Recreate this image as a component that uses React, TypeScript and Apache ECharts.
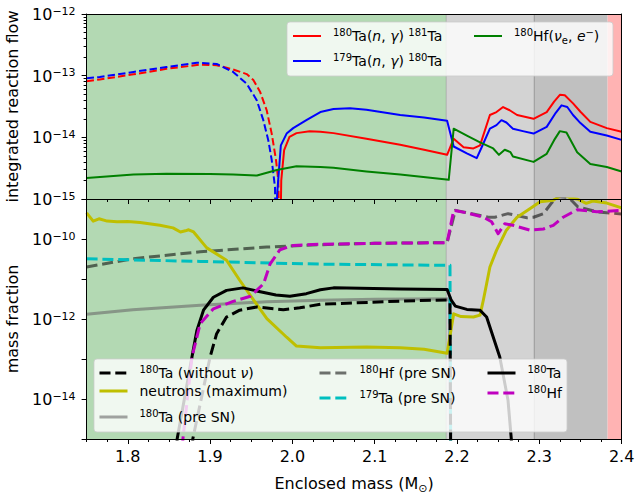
import React, { useEffect, useRef } from 'react';
import * as echarts from 'echarts';

const FONT = 'DejaVu Sans';

// ---------- shaded regions (enclosed mass) ----------
const regionStart = [1.75, 2.187, 2.294, 2.383];
const regionEnd = [2.187, 2.294, 2.383, 2.4];
const regionFills = ['#b3d9b3', '#d3d3d3', '#c0c0c0', '#ffb3b3'];
const regionEdges = [2.187, 2.294];
const regionEdgeColors = ['rgba(140,140,140,0.45)', 'rgba(140,140,140,0.7)'];

// ---------- ticks ----------
const xMajor = [1.8, 1.9, 2.0, 2.1, 2.2, 2.3, 2.4];
const xMinor = [1.75, 1.775, 1.825, 1.85, 1.875, 1.925, 1.95, 1.975, 2.025, 2.05, 2.075, 2.125, 2.15, 2.175, 2.225, 2.25, 2.275, 2.325, 2.35, 2.375];
const topYMajor = [1e-15, 1e-14, 1e-13, 1e-12];
const topYMinor = [2e-15, 3e-15, 4e-15, 5e-15, 6e-15, 7e-15, 8e-15, 9e-15, 2e-14, 3e-14, 4e-14, 5e-14, 6e-14, 7e-14, 8e-14, 9e-14, 2e-13, 3e-13, 4e-13, 5e-13, 6e-13, 7e-13, 8e-13, 9e-13];
const botYTicks = [1e-15, 1e-14, 1e-13, 1e-12, 1e-11, 1e-10, 1e-9];
const botYLabels = [1e-14, 1e-12, 1e-10];

// ---------- top panel: integrated reaction flow ----------
const flowTa180ngNeg = [[1.75, 8.1e-14], [1.766, 8.7e-14], [1.807, 1.05e-13], [1.847, 1.29e-13], [1.888, 1.51e-13], [1.908, 1.48e-13], [1.928, 1.26e-13], [1.9445, 1.06e-13], [1.9526, 8.5e-14], [1.9607, 5.5e-14], [1.9688, 2.75e-14], [1.9749, 1.15e-14], [1.9801, 4.3e-15], [1.9829, 2.0e-15], [1.985, 1e-16]];
const flowTa180ng = [[1.985, 1e-16], [1.9865, 2e-15], [1.990, 6.2e-15], [1.9965, 1.02e-14], [2.005, 1.17e-14], [2.021, 1.26e-14], [2.034, 1.23e-14], [2.050, 1.17e-14], [2.090, 9.5e-15], [2.131, 7.6e-15], [2.160, 6.3e-15], [2.188, 5.2e-15], [2.196, 9.5e-15], [2.208, 6.9e-15], [2.220, 6.6e-15], [2.228, 7.4e-15], [2.240, 2.3e-14], [2.248, 2.57e-14], [2.256, 3.1e-14], [2.264, 2.75e-14], [2.273, 2.3e-14], [2.293, 2.0e-14], [2.309, 2.57e-14], [2.318, 3.8e-14], [2.325, 4.9e-14], [2.331, 4.8e-14], [2.341, 3.55e-14], [2.350, 2.6e-14], [2.362, 1.78e-14], [2.382, 1.41e-14], [2.40, 1.23e-14]];
const flowTa179ngNeg = [[1.75, 9.1e-14], [1.766, 9.5e-14], [1.807, 1.15e-13], [1.847, 1.38e-13], [1.884, 1.62e-13], [1.908, 1.55e-13], [1.928, 1.15e-13], [1.9445, 7.4e-14], [1.9567, 4.0e-14], [1.9647, 1.9e-14], [1.9708, 8.9e-15], [1.9749, 4.3e-15], [1.9789, 1.55e-15], [1.980, 1e-16]];
const flowTa179ng = [[1.980, 1e-16], [1.9815, 1.2e-15], [1.986, 7.4e-15], [1.993, 1.15e-14], [2.001, 1.41e-14], [2.017, 1.9e-14], [2.034, 2.57e-14], [2.050, 2.88e-14], [2.070, 2.95e-14], [2.090, 2.8e-14], [2.131, 2.3e-14], [2.160, 2.1e-14], [2.188, 1.86e-14], [2.196, 7.1e-15], [2.212, 5.5e-15], [2.224, 4.6e-15], [2.230, 6.9e-15], [2.240, 1.38e-14], [2.248, 1.58e-14], [2.254, 1.9e-14], [2.260, 1.74e-14], [2.268, 1.38e-14], [2.280, 1.26e-14], [2.293, 1.15e-14], [2.309, 1.48e-14], [2.320, 2.5e-14], [2.327, 3.3e-14], [2.334, 3.1e-14], [2.341, 2.3e-14], [2.350, 1.7e-14], [2.362, 1.23e-14], [2.382, 1.07e-14], [2.40, 9.1e-15]];
const flowHf180nu = [[1.75, 2.2e-15], [1.807, 2.5e-15], [1.847, 2.57e-15], [1.90, 2.55e-15], [1.928, 2.5e-15], [1.957, 2.4e-15], [1.981, 2.95e-15], [2.005, 3.4e-15], [2.034, 3.3e-15], [2.050, 3.2e-15], [2.090, 2.8e-15], [2.131, 2.5e-15], [2.190, 2.05e-15], [2.196, 1.38e-14], [2.212, 1.07e-14], [2.228, 8.3e-15], [2.244, 6.6e-15], [2.251, 5.2e-15], [2.258, 6.3e-15], [2.265, 5.75e-15], [2.268, 4.9e-15], [2.293, 4.0e-15], [2.309, 5.4e-15], [2.318, 9e-15], [2.325, 1.26e-14], [2.333, 1.2e-14], [2.346, 5.75e-15], [2.362, 3.7e-15], [2.382, 3.3e-15], [2.40, 2.8e-15]];

// ---------- bottom panel: mass fraction ----------
const ta180NoNu = [[1.877, 1e-16], [1.879, 1e-15], [1.900, 1.12e-13], [1.908, 4.3e-13], [1.920, 1.12e-12], [1.936, 1.66e-12], [1.957, 2.0e-12], [1.989, 1.7e-12], [2.009, 1.9e-12], [2.034, 2.35e-12], [2.050, 2.4e-12], [2.131, 2.8e-12], [2.188, 3.0e-12], [2.1915, 2.5e-12], [2.1925, 1e-16]];
const neutronsMax = [[1.75, 4.5e-10], [1.758, 2.8e-10], [1.765, 3.2e-10], [1.775, 2.8e-10], [1.787, 2.7e-10], [1.80, 2.75e-10], [1.815, 2.6e-10], [1.839, 2.2e-10], [1.855, 1.9e-10], [1.864, 1.5e-10], [1.870, 1.6e-10], [1.874, 1.7e-10], [1.880, 1.5e-10], [1.896, 6.0e-11], [1.920, 2.95e-11], [1.936, 9.3e-12], [1.953, 2.95e-12], [1.969, 1.02e-12], [1.993, 3.5e-13], [2.005, 2.1e-13], [2.034, 1.9e-13], [2.090, 2.0e-13], [2.131, 1.9e-13], [2.160, 1.75e-13], [2.188, 1.4e-13], [2.196, 1.35e-12], [2.205, 1.15e-12], [2.220, 1.12e-12], [2.228, 1.25e-12], [2.232, 2.95e-12], [2.236, 7.6e-12], [2.240, 2.0e-11], [2.248, 5.2e-11], [2.260, 1.66e-10], [2.273, 3.5e-10], [2.289, 5.8e-10], [2.301, 8.5e-10], [2.317, 9.3e-10], [2.328, 1.3e-9], [2.339, 1.05e-9], [2.346, 1.0e-9], [2.357, 7.8e-10], [2.365, 8.9e-10], [2.382, 7.9e-10], [2.40, 6.0e-10]];
const ta180PreSN = [[1.75, 1.32e-12], [1.806, 1.7e-12], [1.888, 2.2e-12], [1.969, 2.7e-12], [2.034, 2.95e-12], [2.100, 3.1e-12], [2.188, 3.2e-12], [2.191, 2.8e-12], [2.1925, 1e-16]];
const hf180PreSN = [[1.75, 2.0e-11], [1.806, 3.2e-11], [1.888, 4.8e-11], [1.969, 6.3e-11], [2.034, 7.2e-11], [2.100, 7.8e-11], [2.188, 8.1e-11], [2.198, 5.2e-10], [2.238, 3.5e-10], [2.246, 3.5e-10], [2.262, 4.3e-10], [2.285, 3.4e-10], [2.293, 3.5e-10], [2.305, 4.3e-10], [2.315, 8.0e-10], [2.322, 1.15e-9], [2.333, 1.1e-9], [2.339, 9.3e-10], [2.347, 6.3e-10], [2.370, 4.8e-10], [2.40, 4.2e-10]];
const ta179PreSN = [[1.75, 3.2e-11], [1.888, 2.75e-11], [2.034, 2.35e-11], [2.188, 2.2e-11], [2.1915, 2.2e-11], [2.1925, 1e-16]];
const ta180 = [[1.858, 1e-16], [1.860, 1e-15], [1.878, 1.12e-13], [1.884, 5.2e-13], [1.892, 1.66e-12], [1.904, 3.5e-12], [1.920, 5.2e-12], [1.940, 6.0e-12], [1.961, 4.8e-12], [1.980, 4.0e-12], [1.997, 3.7e-12], [2.017, 4.3e-12], [2.034, 5.4e-12], [2.050, 6.0e-12], [2.131, 5.6e-12], [2.188, 5.5e-12], [2.193, 2.95e-12], [2.198, 2.1e-12], [2.212, 1.74e-12], [2.228, 1.66e-12], [2.236, 1.12e-12], [2.252, 1.12e-13], [2.262, 9.3e-15], [2.266, 1e-15], [2.268, 1e-16]];
const hf180 = [[1.865, 1e-16], [1.867, 1e-15], [1.878, 1.12e-13], [1.888, 7.6e-13], [1.904, 1.8e-12], [1.928, 2.75e-12], [1.949, 3.7e-12], [1.965, 7.6e-12], [1.973, 2.4e-11], [1.985, 5.4e-11], [2.001, 6.9e-11], [2.034, 7.4e-11], [2.100, 7.8e-11], [2.188, 8.1e-11], [2.196, 5.2e-10], [2.212, 4.5e-10], [2.232, 3.5e-10], [2.242, 2.7e-10], [2.250, 1.35e-10], [2.258, 2.4e-10], [2.268, 2.2e-10], [2.289, 1.66e-10], [2.305, 1.78e-10], [2.317, 2.2e-10], [2.329, 3.5e-10], [2.346, 5.4e-10], [2.370, 4.8e-10], [2.40, 5.2e-10]];

// ---------- legend labels (rich text) ----------
const legendLabels: Record<string, string> = {
  '180Ta(n,γ)181Ta': '{s|180}{n|Ta(}{i|n}{n|, }{i|γ}{n|) }{s|181}{n|Ta}',
  '179Ta(n,γ)180Ta': '{s|179}{n|Ta(}{i|n}{n|, }{i|γ}{n|) }{s|180}{n|Ta}',
  '180Hf(νe,e−)': '{s|180}{n|Hf(}{i|ν}{b|e}{n|, }{i|e}{s|−}{n|)}',
  '180Ta (without ν)': '{s|180}{n|Ta (without }{i|ν}{n|)}',
  'neutrons (maximum)': '{n|neutrons (maximum)}',
  '180Ta (pre SN)': '{s|180}{n|Ta (pre SN)}',
  '180Hf (pre SN)': '{s|180}{n|Hf (pre SN)}',
  '179Ta (pre SN)': '{s|179}{n|Ta (pre SN)}',
  '180Ta': '{s|180}{n|Ta}',
  '180Hf': '{s|180}{n|Hf}',
};

const legendRich = {
  n: { fontFamily: FONT, fontSize: 14, color: '#000', padding: [2, 0, 2, 0] },
  i: { fontFamily: FONT, fontSize: 14, color: '#000', fontStyle: 'italic', padding: [2, 0, 2, 0] },
  s: { fontFamily: FONT, fontSize: 10, color: '#000', verticalAlign: 'top' },
  b: { fontFamily: FONT, fontSize: 10, color: '#000', verticalAlign: 'bottom' },
};

function legendItem(name: string, left: number, top: number, width: number) {
  return {
    show: true,
    orient: 'vertical',
    left,
    top,
    padding: 0,
    data: [name],
    itemWidth: 28,
    itemHeight: 14,
    selectedMode: false,
    z: 60,
    lineStyle: { width },
    itemStyle: { opacity: 0 },
    formatter: (n: string) => legendLabels[n] || n,
    textStyle: { fontFamily: FONT, fontSize: 14, color: '#000', padding: [0, 0, 0, 7], rich: legendRich },
  };
}

const expLabel = (v: number) => {
  const e = Math.round(Math.log10(v));
  return `{b|10}{s|−${-e}}`;
};

const yLabelRich = {
  b: { fontFamily: FONT, fontSize: 16, color: '#000', padding: [1, 0, 0, 0] },
  s: { fontFamily: FONT, fontSize: 11, color: '#000', verticalAlign: 'top' },
};

const axisLineStyle = { color: '#000', width: 1 };

function xAxes(gridIndex: number, labels: boolean) {
  const base = { type: 'value', gridIndex, min: 1.75, max: 2.4, splitLine: { show: false }, z: 5 };
  return [
    {
      ...base,
      position: 'bottom',
      axisLine: { show: true, onZero: false, lineStyle: axisLineStyle },
      axisTick: { show: true, length: 5, customValues: xMajor, lineStyle: axisLineStyle },
      axisLabel: labels
        ? { show: true, customValues: xMajor, formatter: (v: number) => v.toFixed(1), fontFamily: FONT, fontSize: 16, color: '#000', margin: 9 }
        : { show: false },
      ...(labels
        ? {
            name: '{n|Enclosed mass (M}{b|⊙}{n|)}',
            nameLocation: 'middle',
            nameGap: 34,
            nameTextStyle: {
              fontFamily: FONT, fontSize: 16, color: '#000',
              rich: {
                n: { fontFamily: FONT, fontSize: 16, color: '#000', padding: [2, 0, 3, 0] },
                b: { fontFamily: FONT, fontSize: 11, color: '#000', verticalAlign: 'bottom' },
              },
            },
          }
        : {}),
    },
    {
      ...base,
      position: 'bottom',
      axisLine: { show: false, onZero: false },
      axisTick: { show: true, length: 3, customValues: xMinor, lineStyle: axisLineStyle },
      axisLabel: { show: false },
    },
    {
      ...base,
      position: 'top',
      axisLine: { show: true, onZero: false, lineStyle: axisLineStyle },
      axisTick: { show: false },
      axisLabel: { show: false },
    },
  ];
}

function rightSpine(gridIndex: number) {
  return {
    type: 'value', gridIndex, min: 0, max: 1, position: 'right', z: 5,
    axisLine: { show: true, onZero: false, lineStyle: axisLineStyle },
    axisTick: { show: false }, axisLabel: { show: false }, splitLine: { show: false },
  };
}

const regionData = regionStart.map((s, i) => [s, regionEnd[i]]);
const edgeData = regionEdges.map((e) => [e, e]);

function regionSeries(xi: number, yi: number, yRef: number) {
  return [
    {
      type: 'custom', xAxisIndex: xi, yAxisIndex: yi, z: 1, silent: true,
      data: regionData,
      renderItem: (params: any, api: any) => {
        const cs = params.coordSys;
        const x0 = api.coord([api.value(0), yRef])[0];
        const x1 = api.coord([api.value(1), yRef])[0];
        return { type: 'rect', shape: { x: x0, y: cs.y, width: x1 - x0, height: cs.height }, style: { fill: regionFills[params.dataIndex] } };
      },
    },
    {
      type: 'custom', xAxisIndex: xi, yAxisIndex: yi, z: 1, silent: true,
      data: edgeData,
      renderItem: (params: any, api: any) => {
        const cs = params.coordSys;
        const x0 = api.coord([api.value(0), yRef])[0];
        return { type: 'line', shape: { x1: x0, y1: cs.y, x2: x0, y2: cs.y + cs.height }, style: { stroke: regionEdgeColors[params.dataIndex], lineWidth: 1.2 } };
      },
    },
  ];
}

function line(name: string, data: number[][], color: string, width: number, dash: any, xi: number, yi: number) {
  return {
    type: 'line', name, data, xAxisIndex: xi, yAxisIndex: yi, z: 3,
    symbol: 'none', showSymbol: false, clip: true, silent: true,
    lineStyle: { color, width, type: dash, join: 'round', cap: 'butt' },
    itemStyle: { color },
  };
}

const TOP_DASH = [7.4, 3.2];
const BOT_DASH = [11, 4.8];

export default function App() {
  const ref = useRef<HTMLDivElement>(null);
  useEffect(() => {
    if (!ref.current) return;
    const chart = echarts.init(ref.current, null, { renderer: 'svg' });
    const option: any = {
      animation: false,
      backgroundColor: '#ffffff',
      textStyle: { fontFamily: FONT },
      grid: [
        { left: 86.6, top: 14, width: 535, height: 185, outerBoundsMode: 'none', containLabel: false },
        { left: 86.6, top: 199, width: 535, height: 240, outerBoundsMode: 'none', containLabel: false },
      ],
      xAxis: [...xAxes(0, false), ...xAxes(1, true)],
      yAxis: [
        {
          type: 'log', logBase: 10, gridIndex: 0, min: 1e-15, max: 1e-12, position: 'left', z: 5,
          axisLine: { show: true, onZero: false, lineStyle: axisLineStyle },
          axisTick: { show: true, length: 5, customValues: topYMajor, lineStyle: axisLineStyle },
          axisLabel: { show: true, customValues: topYMajor, formatter: expLabel, margin: 11, fontFamily: FONT, fontSize: 16, color: '#000', rich: yLabelRich },
          splitLine: { show: false },
          name: 'integrated reaction flow', nameLocation: 'middle', nameGap: 66,
          nameTextStyle: { fontFamily: FONT, fontSize: 16, color: '#000' },
        },
        {
          type: 'log', logBase: 10, gridIndex: 0, min: 1e-15, max: 1e-12, position: 'left', z: 5,
          axisLine: { show: false, onZero: false },
          axisTick: { show: true, length: 3, customValues: topYMinor, lineStyle: axisLineStyle },
          axisLabel: { show: false }, splitLine: { show: false },
        },
        rightSpine(0),
        {
          type: 'log', logBase: 10, gridIndex: 1, min: 1e-15, max: 1e-9, position: 'left', z: 5,
          axisLine: { show: true, onZero: false, lineStyle: axisLineStyle },
          axisTick: { show: true, length: 5, customValues: botYTicks, lineStyle: axisLineStyle },
          axisLabel: { show: true, customValues: botYLabels, formatter: expLabel, margin: 11, fontFamily: FONT, fontSize: 16, color: '#000', rich: yLabelRich },
          splitLine: { show: false },
          name: 'mass fraction', nameLocation: 'middle', nameGap: 66,
          nameTextStyle: { fontFamily: FONT, fontSize: 16, color: '#000' },
        },
        rightSpine(1),
      ],
      legend: [
        legendItem('180Ta(n,γ)181Ta', 292, 27, 2),
        legendItem('179Ta(n,γ)180Ta', 292, 52, 2),
        legendItem('180Hf(νe,e−)', 473, 27, 2),
        legendItem('180Ta (without ν)', 98, 364, 3),
        legendItem('neutrons (maximum)', 98, 384, 3),
        legendItem('180Ta (pre SN)', 98, 408, 3),
        legendItem('180Hf (pre SN)', 318, 364, 3),
        legendItem('179Ta (pre SN)', 318, 389, 3),
        legendItem('180Ta', 486, 364, 3),
        legendItem('180Hf', 486, 384, 3),
      ],
      graphic: [
        { type: 'rect', z: 50, silent: true, shape: { x: 287, y: 22, width: 326, height: 54, r: 3 }, style: { fill: 'rgba(255,255,255,0.8)', stroke: 'rgba(204,204,204,0.8)', lineWidth: 1 } },
        { type: 'rect', z: 50, silent: true, shape: { x: 94, y: 359, width: 473, height: 73, r: 3 }, style: { fill: 'rgba(255,255,255,0.8)', stroke: 'rgba(204,204,204,0.8)', lineWidth: 1 } },
      ],
      series: [
        ...regionSeries(0, 0, 1e-13),
        line('180Ta(n,γ)181Ta', flowTa180ng, '#ff0000', 2, 'solid', 0, 0),
        line('180Ta(n,γ)181Ta neg', flowTa180ngNeg, '#ff0000', 2, TOP_DASH, 0, 0),
        line('179Ta(n,γ)180Ta', flowTa179ng, '#0000ff', 2, 'solid', 0, 0),
        line('179Ta(n,γ)180Ta neg', flowTa179ngNeg, '#0000ff', 2, TOP_DASH, 0, 0),
        line('180Hf(νe,e−)', flowHf180nu, '#008000', 2, 'solid', 0, 0),
        ...regionSeries(3, 3, 1e-12),
        line('180Ta (pre SN)', ta180PreSN, 'rgba(105,105,105,0.6)', 3, 'solid', 3, 3),
        line('180Hf (pre SN)', hf180PreSN, 'rgba(0,0,0,0.55)', 3, BOT_DASH, 3, 3),
        line('179Ta (pre SN)', ta179PreSN, '#00bfbf', 3, BOT_DASH, 3, 3),
        line('neutrons (maximum)', neutronsMax, '#bfbf00', 3, 'solid', 3, 3),
        line('180Ta (without ν)', ta180NoNu, '#000000', 3, BOT_DASH, 3, 3),
        line('180Ta', ta180, '#000000', 3, 'solid', 3, 3),
        line('180Hf', hf180, '#bf00bf', 3, BOT_DASH, 3, 3),
      ],
    };
    chart.setOption(option);
    return () => chart.dispose();
  }, []);
  return <div ref={ref} style={{ position: 'absolute', left: 0, top: 0, width: 635, height: 494 }} />;
}
